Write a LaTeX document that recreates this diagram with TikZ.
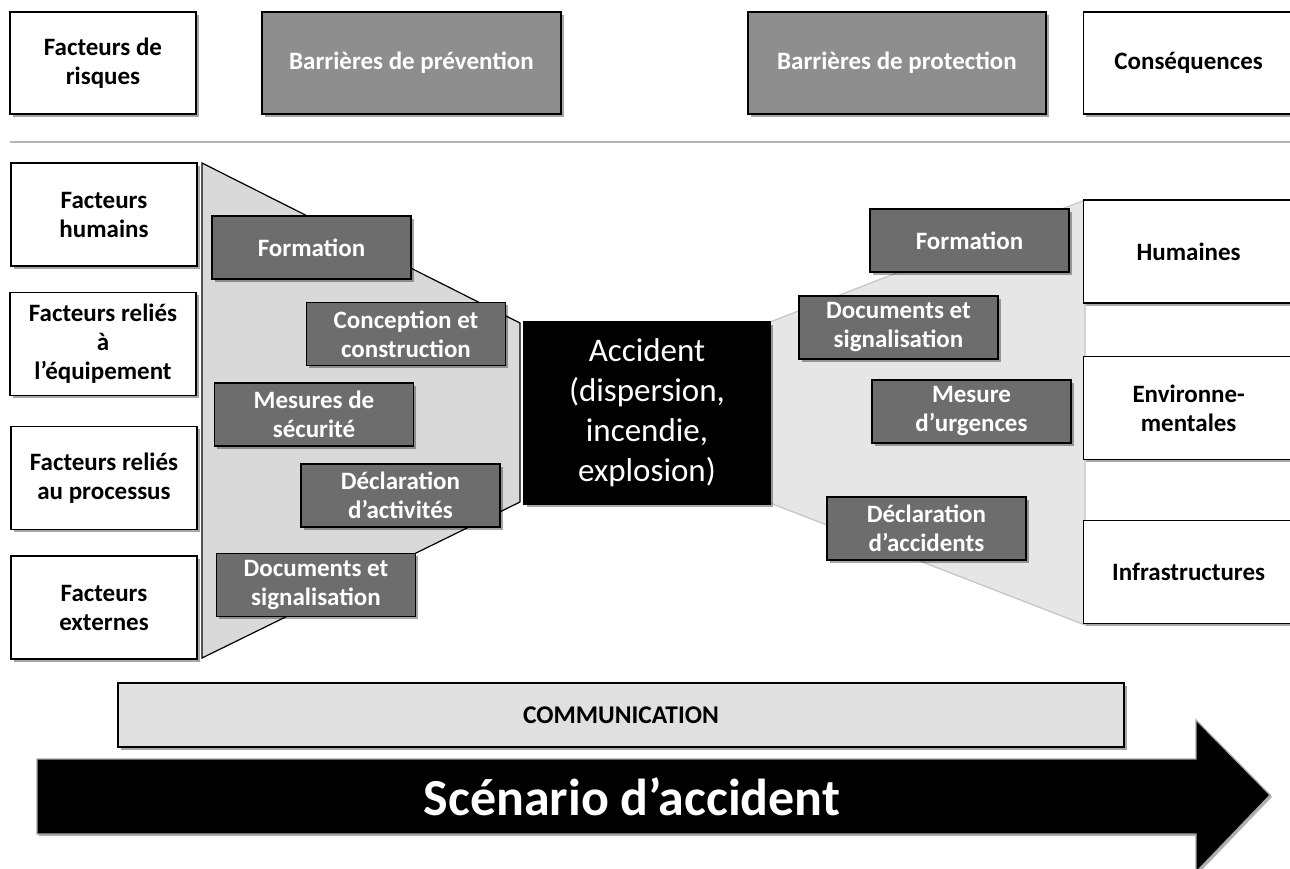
\documentclass[tikz,border=0pt]{standalone}
\usepackage{fontspec}
\setmainfont{Carlito}
\usetikzlibrary{shadows}
\definecolor{hdrgray}{HTML}{8E8E8E}
\definecolor{bargray}{HTML}{6D6D6D}
\definecolor{funL}{HTML}{D9D9D9}
\definecolor{funR}{HTML}{E6E6E6}
\definecolor{funRline}{HTML}{C4C4C4}
\definecolor{sepgray}{HTML}{B5B5B5}
\definecolor{commgray}{HTML}{E0E0E0}
\tikzset{
  shad/.style={drop shadow={shadow xshift=2.5pt, shadow yshift=-2.5pt, fill=black, opacity=0.35}},
  basebox/.style={draw=black, line width=1.3pt, inner sep=0pt, align=center, shad,
    font=\bfseries\fontsize{25}{29}\selectfont},
  whitebox/.style={basebox, fill=white, text=black},
  hdrbox/.style={basebox, fill=hdrgray, text=white},
  barbox/.style={basebox, fill=bargray, text=white, minimum width=199, minimum height=63},
  factbox/.style={whitebox, minimum width=186, minimum height=103},
  consbox/.style={whitebox, minimum width=210, minimum height=103},
}
\begin{document}
\begin{tikzpicture}[x=1pt,y=-1pt]
\useasboundingbox (0,0) rectangle (1290,868);
\fill[white] (0,0) rectangle (1290,868);

% header row
\node[whitebox, minimum width=186, minimum height=102] (risques) at (103,63) {Facteurs de\\risques};
\node[hdrbox, minimum width=299, minimum height=102] (prev) at (411.5,63) {Barrières de prévention};
\node[hdrbox, minimum width=298, minimum height=102] (prot) at (897,63) {Barrières de protection};
\node[whitebox, minimum width=210, minimum height=102, anchor=west] (cons) at (1083,63) {Conséquences};

% separator
\coordinate (sepL) at (10,142);
\coordinate (sepR) at (1290,142);
\draw[sepgray, line width=2.5pt] (sepL) -- (sepR);

% funnels
\draw[fill=funL, draw=black, line width=1.2pt] (202,163) -- (520,323) -- (520,502) -- (202,658) -- cycle;
\draw[fill=funR, draw=funRline, line width=1.2pt] (770,322) -- (1085,200) -- (1085,625) -- (770,503) -- cycle;

% left factor boxes
\node[factbox] (hum) at (104,214.5) {Facteurs\\humains};
\node[factbox] (equip) at (103,344) {Facteurs reliés\\à\\l’équipement};
\node[factbox] (proc) at (104,478) {Facteurs reliés\\au processus};
\node[factbox] (ext) at (104,607.5) {Facteurs\\externes};

% left barriers
\node[barbox] (formL) at (311.5,247.5) {Formation};
\node[barbox] (concep) at (406,334) {Conception et\\construction};
\node[barbox] (mes) at (314,414.5) {Mesures de\\sécurité};
\node[barbox] (declL) at (400.5,495.5) {Déclaration\\d’activités};
\node[barbox] (docL) at (316,585) {Documents et\\signalisation};

% accident
\node[draw=black, fill=black, text=white, line width=1.3pt, shad, inner sep=0pt, align=center,
  minimum width=246, minimum height=182, font=\fontsize{33}{40}\selectfont] (acc) at (647,413)
  {Accident\\(dispersion,\\incendie,\\explosion)};

% right barriers
\node[barbox] (formR) at (969.5,240.5) {Formation};
\node[barbox] (docR) at (898.5,327.5) {Documents et\\signalisation};
\node[barbox] (urg) at (971.5,411.5) {Mesure\\d’urgences};
\node[barbox] (declR) at (926.5,528.5) {Déclaration\\d’accidents};

% consequence boxes
\node[consbox, anchor=west] (humR) at (1083,251.5) {Humaines};
\node[consbox, anchor=west] (env) at (1083,408) {Environne-\\mentales};
\node[consbox, anchor=west] (infra) at (1083,572) {Infrastructures};

% communication
\node[draw=black, fill=commgray, line width=1.3pt, shad, inner sep=0pt,
  minimum width=1006, minimum height=64, font=\bfseries\fontsize{25.5}{29}\selectfont] (comm) at (621,715) {COMMUNICATION};

% scenario arrow
\draw[fill=black, draw=gray!70, line width=1.2pt,
  drop shadow={shadow xshift=2pt, shadow yshift=-2pt, fill=black, opacity=0.3}]
  (37,759) -- (1196,759) -- (1196,720) -- (1270,795) -- (1196,872) -- (1196,834) -- (37,834) -- cycle;
\node[text=white, font=\bfseries\fontsize{52}{58}\selectfont, inner sep=0pt] (scen) at (632,797) {Scénario d’accident};
\end{tikzpicture}
\end{document}
